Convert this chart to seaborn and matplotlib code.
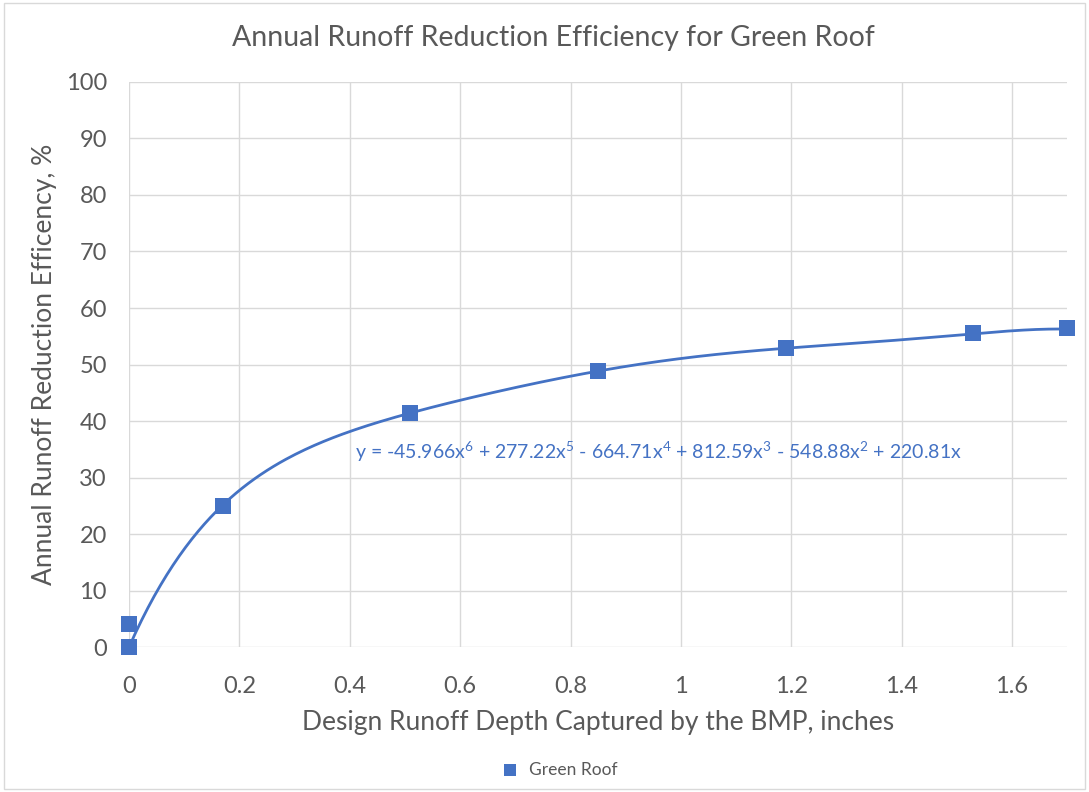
import numpy as np
import pandas as pd
import matplotlib
matplotlib.use("Agg")
import matplotlib.pyplot as plt
import seaborn as sns

# Data
depth_in = [0, 0, 0.17, 0.51, 0.85, 1.19, 1.53, 1.70]
efficiency_pct = [0, 4, 25, 41.5, 48.8, 53.0, 55.6, 56.4]

# Trendline coefficients (x^6 ... x^0), as printed on the chart
trend_coefs = [-45.966, 277.22, -664.71, 812.59, -548.88, 220.81, 0]
trend_label = (r"y = -45.966x$^{6}$ + 277.22x$^{5}$ - 664.71x$^{4}$ + "
               r"812.59x$^{3}$ - 548.88x$^{2}$ + 220.81x")

x_ticks = [0, 0.2, 0.4, 0.6, 0.8, 1.0, 1.2, 1.4, 1.6]
x_tick_labels = ["0", "0.2", "0.4", "0.6", "0.8", "1", "1.2", "1.4", "1.6"]
y_ticks = list(range(0, 101, 10))

blue = "#4472C4"
grey = "#595959"

sns.set_style("white")
plt.rcParams["font.family"] = ["Lato", "DejaVu Sans"]
plt.rcParams["mathtext.fontset"] = "custom"
plt.rcParams["mathtext.rm"] = "Lato"
plt.rcParams["mathtext.it"] = "Lato"

points_df = pd.DataFrame({"depth": depth_in, "eff": efficiency_pct})
trend_x = np.linspace(0, 1.7, 300)
trend_df = pd.DataFrame({"depth": trend_x, "eff": np.polyval(trend_coefs, trend_x)})

fig = plt.figure(figsize=(10.89, 7.92), dpi=100)
ax = fig.add_axes([0.1185, 0.183, 0.8615, 0.7135])

sns.lineplot(data=trend_df, x="depth", y="eff", color=blue, linewidth=2.0, ax=ax)
sns.scatterplot(data=points_df, x="depth", y="eff", marker="s", s=130,
                color=blue, edgecolor=blue, linewidth=0, label="Green Roof",
                zorder=5, clip_on=False, ax=ax)

ax.set_xlim(0, 1.7)
ax.set_ylim(0, 100)
ax.set_xticks(x_ticks)
ax.set_xticklabels(x_tick_labels)
ax.set_yticks(y_ticks)
ax.grid(True, color="#D9D9D9", linewidth=1.0)
ax.set_axisbelow(True)
for s in ax.spines.values():
    s.set_visible(False)
ax.tick_params(axis="both", length=0, labelsize=17, labelcolor=grey)
ax.tick_params(axis="y", pad=16)
ax.tick_params(axis="x", pad=21)

ax.set_xlabel("Design Runoff Depth Captured by the BMP, inches",
              fontsize=19, color=grey, labelpad=9)
ax.set_ylabel("Annual Runoff Reduction Efficency, %",
              fontsize=19, color=grey, labelpad=6)
fig.text(0.508, 0.952, "Annual Runoff Reduction Efficiency for Green Roof",
         ha="center", va="center", fontsize=20.5, color=grey)

ax.text(0.41, 34.5, trend_label, fontsize=14, color=blue, va="center", ha="left")

ax.legend(loc="center", bbox_to_anchor=(0.51, 0.028), bbox_transform=fig.transFigure,
          frameon=False, fontsize=12.5, labelcolor=grey, handletextpad=0.1,
          markerscale=0.75)

# chart area border
fig.patches.append(plt.Rectangle((0.004, 0.004), 0.992, 0.992, transform=fig.transFigure,
                                 fill=False, edgecolor="#D9D9D9", linewidth=1.0))

plt.savefig("out.png", dpi=100)
